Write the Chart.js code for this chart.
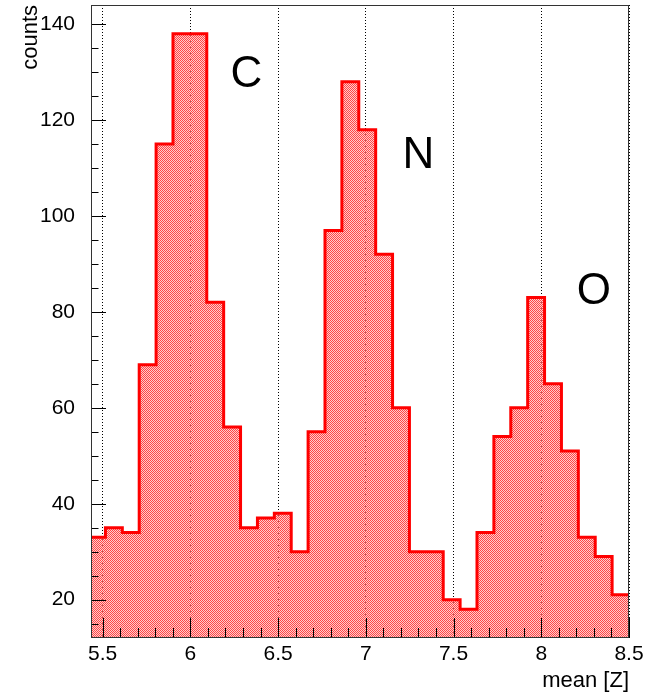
<!DOCTYPE html>
<html>
<head>
<meta charset="utf-8">
<script src="https://cdn.jsdelivr.net/npm/chart.js@4.4.0/dist/chart.umd.min.js"></script>
<style>
html, body { margin: 0; padding: 0; background: #fff; }
canvas { display: block; }
</style>
</head>
<body>
<canvas id="myChart" width="657" height="694"></canvas>
<script>
// histogram contents: 32 equal bins between binLow and binHigh
const binLow = 5.42;
const binHigh = 8.5;
const counts = [33, 35, 34, 69, 115, 138, 138, 82, 56, 35, 37, 38, 30, 55, 97, 128,
                118, 92, 60, 30, 30, 20, 18, 34, 54, 60, 83, 65, 51, 33, 29, 21];

const xTicks = [5.5, 6, 6.5, 7, 7.5, 8, 8.5];
const yTicks = [20, 40, 60, 80, 100, 120, 140];

// peak labels, placed in data coordinates
const peakNames = ['C', 'N', 'O'];
const peakX = [6.32, 7.30, 8.30];
const peakY = [127, 110, 81.6];

const fontFamily = '"Liberation Sans", Arial, Helvetica, sans-serif';

const binWidth = (binHigh - binLow) / counts.length;
const points = counts.map((c, i) => ({ x: binLow + i * binWidth, y: c }));
points.push({ x: binHigh, y: counts[counts.length - 1] });

const ctx = document.getElementById('myChart').getContext('2d');

// ROOT-like fill style 3001: every other pixel, light pixels let the grid through
function makeHatch() {
    const c = document.createElement('canvas');
    c.width = 2;
    c.height = 2;
    const g = c.getContext('2d');
    g.fillStyle = 'rgb(255, 70, 70)';
    g.fillRect(0, 0, 1, 1);
    g.fillRect(1, 1, 1, 1);
    g.fillStyle = 'rgba(255, 170, 170, 0.6)';
    g.fillRect(1, 0, 1, 1);
    g.fillRect(0, 1, 1, 1);
    return ctx.createPattern(c, 'repeat');
}

const frameAndTicks = {
    id: 'frameAndTicks',
    afterDatasetsDraw(chart) {
        const { ctx, chartArea: a, scales: { x, y } } = chart;
        ctx.save();
        ctx.strokeStyle = '#000';
        ctx.lineWidth = 1;
        ctx.beginPath();
        // y ticks inside the frame, minor every 5
        for (let v = 15; v <= 144; v += 5) {
            const py = Math.round(y.getPixelForValue(v)) + 0.5;
            const len = v % 20 === 0 ? 15 : 7.5;
            ctx.moveTo(a.left, py);
            ctx.lineTo(a.left + len, py);
        }
        // x ticks inside the frame, minor every 0.1
        for (let k = 55; k <= 85; k++) {
            const px = Math.round(x.getPixelForValue(k / 10)) + 0.5;
            const len = k % 5 === 0 ? 20 : 10;
            ctx.moveTo(px, a.bottom);
            ctx.lineTo(px, a.bottom - len);
        }
        ctx.stroke();

        ctx.strokeStyle = '#333';
        ctx.strokeRect(a.left + 0.5, a.top + 0.5, a.right - a.left - 1, a.bottom - a.top - 1);

        // axis titles
        ctx.fillStyle = '#000';
        ctx.font = '22px ' + fontFamily;
        ctx.textAlign = 'right';
        ctx.textBaseline = 'alphabetic';
        ctx.fillText('mean [Z]', a.right, 687);
        ctx.save();
        ctx.translate(37, a.top);
        ctx.rotate(-Math.PI / 2);
        ctx.fillText('counts', 0, 0);
        ctx.restore();

        // peak names
        ctx.font = '44px ' + fontFamily;
        ctx.textAlign = 'center';
        peakNames.forEach(function (name, i) {
            ctx.fillText(name, x.getPixelForValue(peakX[i]), y.getPixelForValue(peakY[i]));
        });
        ctx.restore();
    }
};

const config = {
    type: 'line',
    data: {
        datasets: [{
            data: points,
            stepped: 'before',
            borderColor: '#ff0000',
            borderWidth: 3,
            backgroundColor: makeHatch(),
            fill: 'start',
            pointRadius: 0,
            clip: 0
        }]
    },
    options: {
        responsive: false,
        animation: false,
        devicePixelRatio: 1,
        layout: { padding: { top: 5, right: 28, left: 0, bottom: 0 } },
        plugins: {
            legend: { display: false },
            tooltip: { enabled: false }
        },
        scales: {
            x: {
                type: 'linear',
                min: 5.434,
                max: 8.5,
                afterBuildTicks: function (s) { s.ticks = xTicks.map(v => ({ value: v })); },
                afterFit: function (s) { s.height = 56; s.paddingLeft = 0; s.paddingRight = 0; },
                grid: { color: '#000', lineWidth: 1, drawTicks: false },
                border: { display: false, dash: [1, 2] },
                ticks: {
                    color: '#000',
                    padding: 4,
                    maxRotation: 0,
                    autoSkip: false,
                    font: { family: fontFamily, size: 21 },
                    callback: v => String(v)
                }
            },
            y: {
                min: 12,
                max: 144,
                afterBuildTicks: function (s) { s.ticks = yTicks.map(v => ({ value: v })); },
                afterFit: function (s) { s.width = 91; s.paddingTop = 0; s.paddingBottom = 0; },
                grid: { display: false },
                border: { display: false },
                ticks: {
                    color: '#000',
                    padding: 8,
                    font: { family: fontFamily, size: 21 },
                    callback: v => String(v)
                }
            }
        }
    },
    plugins: [frameAndTicks]
};

const myChart = new Chart(ctx, config);
</script>
</body>
</html>
